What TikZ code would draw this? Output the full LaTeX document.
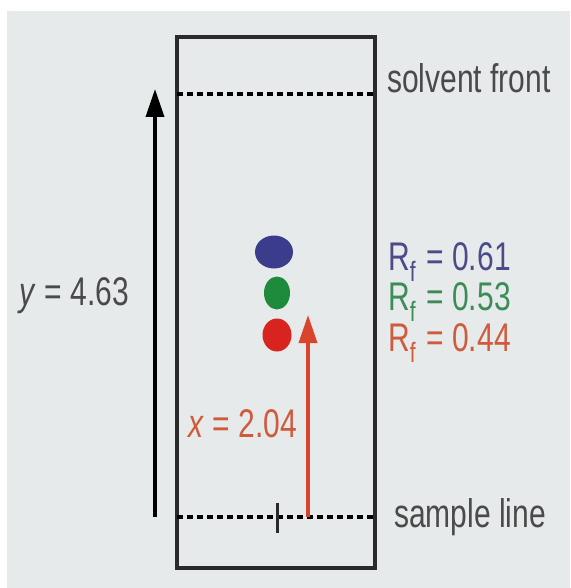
\documentclass[tikz,border=0pt]{standalone}
\usepackage{fontspec}
\setmainfont[FakeStretch=0.75]{Liberation Sans}
\usetikzlibrary{shapes.geometric, arrows.meta, positioning}
\definecolor{TLC_Back}{HTML}{E6EAEA}
\definecolor{TLC_Blue}{HTML}{3B3D8C}
\definecolor{TLC_Green}{HTML}{1E8A3C}
\definecolor{TLC_Red}{HTML}{D8231E}
\definecolor{TLC_BlueText}{HTML}{4B4B88}
\definecolor{TLC_GreenText}{HTML}{3C8C58}
\definecolor{TLC_OrangeText}{HTML}{D05A3C}
\definecolor{TLC_Arrow}{HTML}{D8442C}
\definecolor{TLC_Ink}{HTML}{2A2A2A}

\begin{document}
\begin{tikzpicture}[x=1pt, y=-1pt,
  plate/.style={draw=TLC_Ink, line width=3.5},
  front/.style={draw=black, line width=3.5, dash pattern=on 6 off 4},
  label/.style={anchor=base west, inner sep=0, text=TLC_Ink!85, font=\fontsize{40}{44}\selectfont},
  rf/.style={anchor=base west, inner sep=0, font=\fontsize{40}{44}\selectfont},
  spot/.style={ellipse, minimum width=#1, inner sep=0},
  arrowline/.style={line width=3.5, -{Triangle[length=28, width=18]}}]
\useasboundingbox (0,0) rectangle (570,588);
% Background
\fill[TLC_Back] (7,11) rectangle (570,588);
% Plate
\draw[plate] (177,37) rectangle (375,568);
% Solvent front and sample line
\coordinate (frontL) at (177,94);
\coordinate (frontR) at (375,94);
\coordinate (sampleL) at (177,517);
\coordinate (sampleR) at (375,517);
\draw[front] (frontL) -- (frontR);
\draw[front] (sampleL) -- (sampleR);
\node[label] (frontlabel) at (387,93) {solvent front};
\node[label] (samplelabel) at (394,527) {sample line};
% Tick at sample origin
\coordinate (tickT) at (277,503);
\coordinate (tickB) at (277,533);
\draw[line width=3, TLC_Ink] (tickT) -- (tickB);
% Spots
\node[spot=38, minimum height=33, fill=TLC_Blue] (blue) at (274,252) {};
\node[spot=26, minimum height=33, fill=TLC_Green] (green) at (277,293) {};
\node[spot=29, minimum height=33, fill=TLC_Red] (red) at (277,335) {};
% Rf values
\node[rf, text=TLC_BlueText] (rfblue) at (388,270) {R$_\mathrm{f}$ = 0.61};
\node[rf, text=TLC_GreenText] (rfgreen) at (388,310) {R$_\mathrm{f}$ = 0.53};
\node[rf, text=TLC_OrangeText] (rfred) at (388,351) {R$_\mathrm{f}$ = 0.44};
% Distances
\coordinate (yfoot) at (155,517);
\coordinate (yhead) at (155,89);
\draw[arrowline, black] (yfoot) -- (yhead);
\node[label, anchor=base east] (ylabel) at (129,305) {\textit{y} = 4.63};
\coordinate (xfoot) at (308,517);
\coordinate (xhead) at (308,315);
\draw[arrowline, TLC_Arrow] (xfoot) -- (xhead);
\node[label, anchor=base east, text=TLC_OrangeText] (xlabel) at (297,437) {\textit{x} = 2.04};
\end{tikzpicture}
\end{document}
